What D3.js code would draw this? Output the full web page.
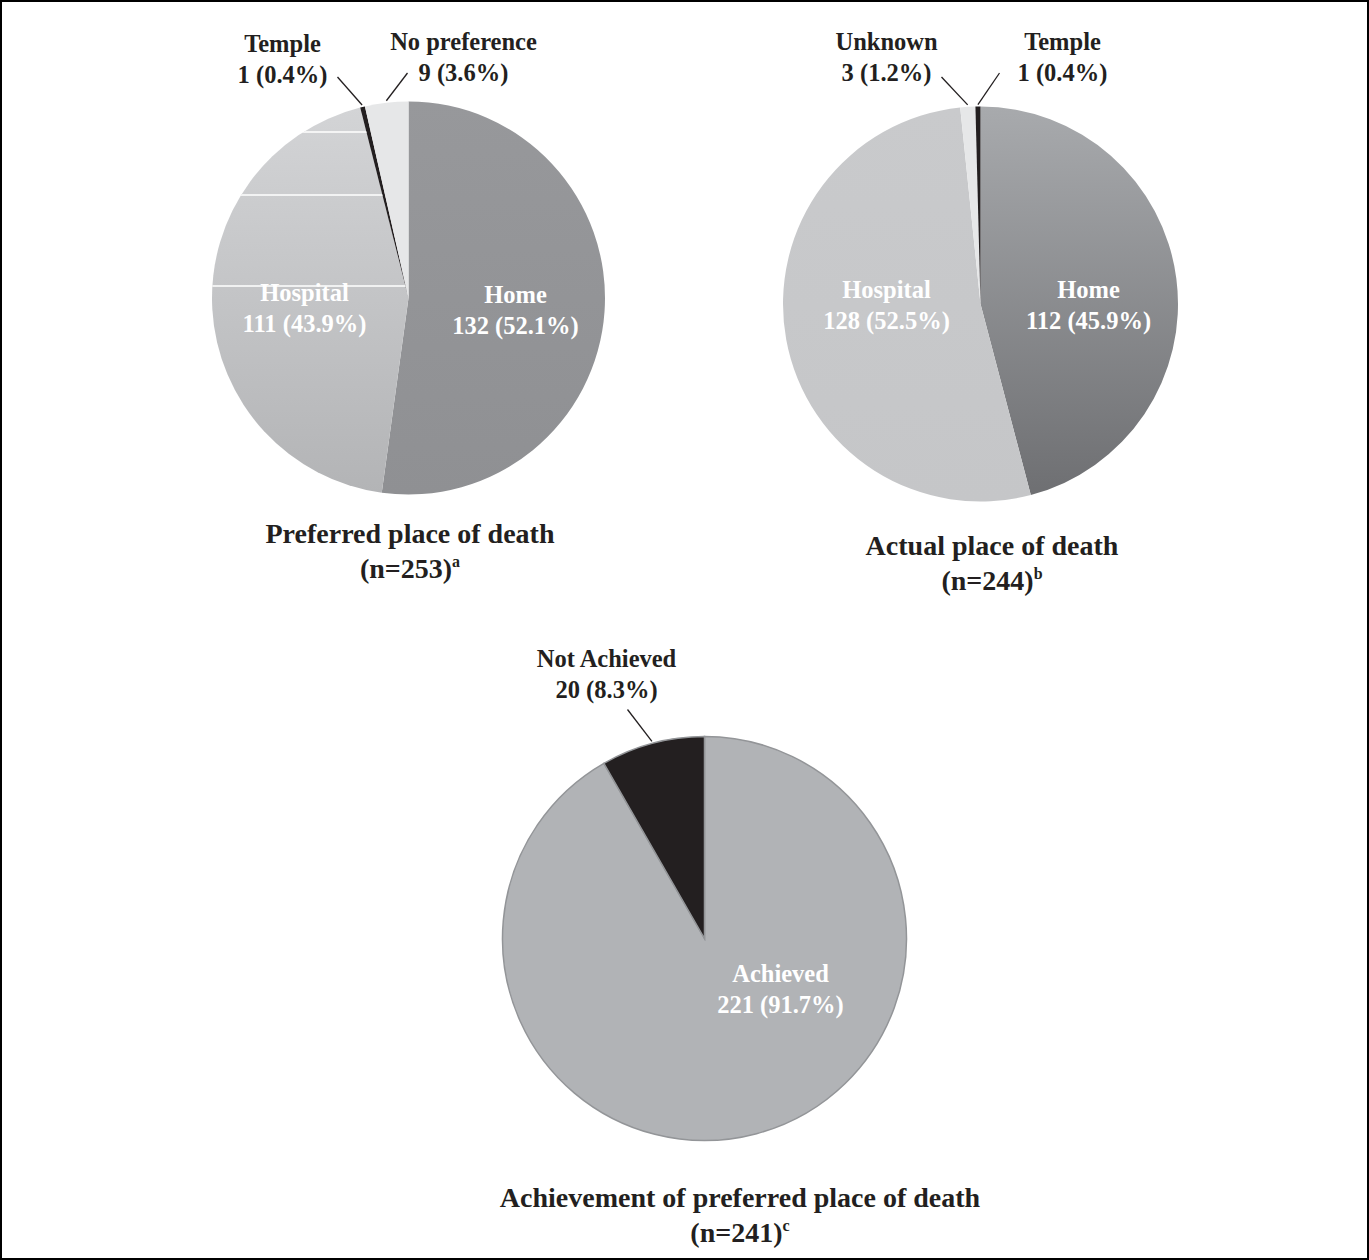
<!DOCTYPE html>
<html>
<head>
<meta charset="utf-8">
<script src="https://cdn.jsdelivr.net/npm/d3@7"></script>
<style>
  body { margin: 0; background: #fff; }
  text { font-family: "Liberation Serif", "Times New Roman", serif; font-weight: bold; }
</style>
</head>
<body>
<svg id="chart" width="1369" height="1260"></svg>
<script>
// data
var preferredLabels = ["Home", "Hospital", "Temple", "No preference"];
var preferredValues = [132, 111, 1, 9];
var preferredPct = ["52.1%", "43.9%", "0.4%", "3.6%"];

var actualLabels = ["Home", "Hospital", "Unknown", "Temple"];
var actualValues = [112, 128, 3, 1];
var actualPct = ["45.9%", "52.5%", "1.2%", "0.4%"];

var achieveLabels = ["Achieved", "Not Achieved"];
var achieveValues = [221, 20];
var achievePct = ["91.7%", "8.3%"];

var svg = d3.select("#chart");
var defs = svg.append("defs");

// border
svg.append("rect")
  .attr("x", 1).attr("y", 1)
  .attr("width", 1367).attr("height", 1258)
  .attr("fill", "none").attr("stroke", "#000").attr("stroke-width", 2);

function addGrad(id, top, bottom) {
  var g = defs.append("linearGradient")
    .attr("id", id)
    .attr("x1", 0).attr("y1", 0).attr("x2", 0).attr("y2", 1);
  g.append("stop").attr("offset", "0").attr("stop-color", top);
  g.append("stop").attr("offset", "1").attr("stop-color", bottom);
}
addGrad("g-home1", "#97989b", "#8f9093");
addGrad("g-hosp1", "#d3d4d6", "#b3b4b6");
addGrad("g-home2", "#a8aaad", "#6e6f72");
addGrad("g-hosp2", "#c9cacc", "#c5c6c8");

var pieCount = 0;

// one pie: cfg has center, radius, fills, label placement
function drawPie(cfg) {
  pieCount++;
  var pie = d3.pie().sort(null).value(function(d){ return d.value; });
  var data = cfg.labels.map(function(l, i){
    return { label: l, value: cfg.values[i], pct: cfg.pct[i] };
  });
  var arcs = pie(data);
  var arc = d3.arc().innerRadius(0).outerRadius(cfg.r);
  var g = svg.append("g").attr("transform", "translate(" + cfg.cx + "," + cfg.cy + ")");

  g.selectAll("path.slice")
    .data(arcs)
    .enter()
    .append("path")
    .attr("class", "slice")
    .attr("d", arc)
    .attr("fill", function(d, i){ return cfg.fills[i]; })
    .attr("stroke", cfg.stroke || "none")
    .attr("stroke-width", cfg.stroke ? 1.5 : 0);

  // thin white streaks seen inside one slice of the scan
  if (cfg.streaks) {
    var cid = "clip" + pieCount;
    defs.append("clipPath").attr("id", cid)
      .append("path")
      .attr("d", arc(arcs[cfg.streaks.slice]))
      .attr("transform", "translate(" + cfg.cx + "," + cfg.cy + ")");
    svg.append("g").attr("clip-path", "url(#" + cid + ")")
      .selectAll("line")
      .data(cfg.streaks.ys)
      .enter()
      .append("line")
      .attr("x1", cfg.cx - cfg.r).attr("x2", cfg.cx)
      .attr("y1", function(d){ return cfg.cy + d; })
      .attr("y2", function(d){ return cfg.cy + d; })
      .attr("stroke", "#fff").attr("stroke-width", 1.5);
  }

  arcs.forEach(function(d, i){
    var lab = cfg.place[i];
    if (lab.inside) {
      var t = g.append("text")
        .attr("x", lab.dx).attr("y", lab.dy)
        .attr("text-anchor", "middle")
        .attr("fill", "#fff")
        .attr("font-size", 24.5);
      t.append("tspan").attr("x", lab.dx).text(d.data.label);
      t.append("tspan").attr("x", lab.dx).attr("dy", 31)
        .text(d.data.value + " (" + d.data.pct + ")");
    } else {
      var mid = (d.startAngle + d.endAngle) / 2;
      var rr = cfg.r + 2;
      g.append("line")
        .attr("x1", Math.sin(mid) * rr).attr("y1", -Math.cos(mid) * rr)
        .attr("x2", lab.lx).attr("y2", lab.ly)
        .attr("stroke", "#231f20").attr("stroke-width", 1.3);
      var t2 = g.append("text")
        .attr("x", lab.dx).attr("y", lab.dy)
        .attr("text-anchor", "middle")
        .attr("fill", "#231f20")
        .attr("font-size", 24.5);
      t2.append("tspan").attr("x", lab.dx).text(d.data.label);
      t2.append("tspan").attr("x", lab.dx).attr("dy", 31)
        .text(d.data.value + " (" + d.data.pct + ")");
    }
  });

  var tt = svg.append("text")
    .attr("x", cfg.tx).attr("y", cfg.ty)
    .attr("text-anchor", "middle")
    .attr("fill", "#231f20")
    .attr("font-size", 28);
  tt.append("tspan").attr("x", cfg.tx).text(cfg.title);
  var l2 = tt.append("tspan").attr("x", cfg.tx).attr("dy", 35).text(cfg.n);
  l2.append("tspan").attr("font-size", 16).attr("dy", -11).text(cfg.sup);
}

drawPie({
  cx: 408.5, cy: 298, r: 196.5,
  labels: preferredLabels, values: preferredValues, pct: preferredPct,
  fills: ["url(#g-home1)", "url(#g-hosp1)", "#231f20", "#e6e7e8"],
  streaks: { slice: 1, ys: [-166, -103, -12] },
  place: [
    { inside: true, dx: 107, dy: 5 },
    { inside: true, dx: -104, dy: 3 },
    { dx: -126, dy: -246, lx: -71, ly: -221 },
    { dx: 55, dy: -248, lx: -1, ly: -225 }
  ],
  title: "Preferred place of death", n: "(n=253)", sup: "a",
  tx: 410, ty: 543
});

drawPie({
  cx: 980.5, cy: 304, r: 197.5,
  labels: actualLabels, values: actualValues, pct: actualPct,
  fills: ["url(#g-home2)", "url(#g-hosp2)", "#e6e7e8", "#231f20"],
  place: [
    { inside: true, dx: 108, dy: -6 },
    { inside: true, dx: -94, dy: -6 },
    { dx: -94, dy: -254, lx: -39, ly: -227 },
    { dx: 82, dy: -254, lx: 19, ly: -231 }
  ],
  title: "Actual place of death", n: "(n=244)", sup: "b",
  tx: 992, ty: 555
});

drawPie({
  cx: 704.5, cy: 938.5, r: 202,
  labels: achieveLabels, values: achieveValues, pct: achievePct,
  fills: ["#b1b3b6", "#231f20"],
  stroke: "#939598",
  place: [
    { inside: true, dx: 76, dy: 43 },
    { dx: -98, dy: -272, lx: -77, ly: -229 }
  ],
  title: "Achievement of preferred place of death", n: "(n=241)", sup: "c",
  tx: 740, ty: 1207
});
</script>
</body>
</html>
